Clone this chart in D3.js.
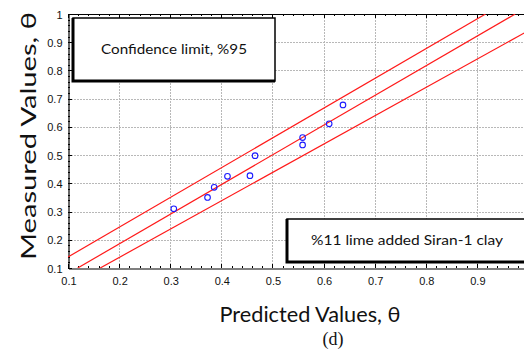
<!DOCTYPE html>
<html>
<head>
<meta charset="utf-8">
<script src="https://cdn.jsdelivr.net/npm/d3@7"></script>
<style>
  body { margin: 0; background: #fff; }
  svg { display: block; }
</style>
</head>
<body>
<div id="chart"></div>
<script>
// measured vs predicted points
const predicted = [0.307, 0.373, 0.386, 0.412, 0.456, 0.466, 0.559, 0.559, 0.611, 0.638];
const measured  = [0.310, 0.350, 0.386, 0.425, 0.427, 0.498, 0.562, 0.536, 0.611, 0.678];

// regression line and 95% confidence limits (end points)
const upperLine  = [[0.100, 0.139], [0.917, 1.000]];
const fitLine    = [[0.119, 0.100], [0.975, 1.000]];
const lowerLine  = [[0.163, 0.100], [1.000, 0.940]];

const xTicks = [0.1, 0.2, 0.3, 0.4, 0.5, 0.6, 0.7, 0.8, 0.9];
const yTicks = [0.1, 0.2, 0.3, 0.4, 0.5, 0.6, 0.7, 0.8, 0.9, 1];

const W = 524, H = 356;
const m = { left: 68, right: 528, top: 14, bottom: 268 };

const svg = d3.select('#chart').append('svg')
  .attr('width', W)
  .attr('height', H);

const x = d3.scaleLinear().domain([0.1, 1]).range([m.left, m.right]);
const y = d3.scaleLinear().domain([0.1, 1]).range([m.bottom, m.top]);

// grid
const grid = svg.append('g')
  .attr('stroke', '#b8b8b8')
  .attr('stroke-width', 1)
  .attr('stroke-dasharray', '2,1');
grid.selectAll('line.gx')
  .data(xTicks.slice(1))
  .join('line')
  .attr('class', 'gx')
  .attr('x1', d => Math.round(x(d)) + 0.5).attr('x2', d => Math.round(x(d)) + 0.5)
  .attr('y1', m.top).attr('y2', m.bottom);
grid.selectAll('line.gy')
  .data(yTicks.slice(1, -1))
  .join('line')
  .attr('class', 'gy')
  .attr('x1', m.left).attr('x2', W)
  .attr('y1', d => Math.round(y(d)) + 0.5).attr('y2', d => Math.round(y(d)) + 0.5);

// axes with inward ticks
const minorX = d3.range(0.1, 1.001, 0.02);
const minorY = d3.range(0.1, 1.001, 0.02);

const xAxis = svg.append('g')
  .attr('transform', `translate(0.5,${m.bottom + 0.5})`)
  .call(d3.axisBottom(x).tickValues(xTicks).tickSize(0).tickPadding(9).tickFormat(d3.format('.1f')));
xAxis.selectAll('text').attr('font-family', 'Liberation Sans, Arial, sans-serif').attr('font-size', 11).attr('fill', '#111');
xAxis.select('.domain').attr('stroke', '#000').attr('stroke-width', 1.2);

const yAxis = svg.append('g')
  .attr('transform', `translate(${m.left + 0.5},0.5)`)
  .call(d3.axisLeft(y).tickValues(yTicks).tickSize(0).tickPadding(6)
    .tickFormat(d => d === 1 ? '1' : d3.format('.1f')(d)));
yAxis.selectAll('text').attr('font-family', 'Liberation Sans, Arial, sans-serif').attr('font-size', 11).attr('fill', '#111');
yAxis.select('.domain').attr('stroke', '#000').attr('stroke-width', 1.2);

// top frame
svg.append('line')
  .attr('x1', m.left).attr('x2', W)
  .attr('y1', m.top + 0.5).attr('y2', m.top + 0.5)
  .attr('stroke', '#000').attr('stroke-width', 1.2);

const tickG = svg.append('g').attr('stroke', '#000').attr('stroke-width', 1);
tickG.selectAll('line.tb')
  .data(minorX)
  .join('line')
  .attr('class', 'tb')
  .attr('x1', d => Math.round(x(d)) + 0.5).attr('x2', d => Math.round(x(d)) + 0.5)
  .attr('y1', m.bottom).attr('y2', (d, i) => m.bottom - (i % 5 === 0 ? 4 : 2));
tickG.selectAll('line.tt')
  .data(minorX)
  .join('line')
  .attr('class', 'tt')
  .attr('x1', d => Math.round(x(d)) + 0.5).attr('x2', d => Math.round(x(d)) + 0.5)
  .attr('y1', m.top).attr('y2', (d, i) => m.top + (i % 5 === 0 ? 4 : 2));
tickG.selectAll('line.tl')
  .data(minorY)
  .join('line')
  .attr('class', 'tl')
  .attr('x1', m.left).attr('x2', (d, i) => m.left + (i % 5 === 0 ? 4 : 2))
  .attr('y1', d => Math.round(y(d)) + 0.5).attr('y2', d => Math.round(y(d)) + 0.5);

// lines, clipped to the plot
svg.append('clipPath').attr('id', 'plot')
  .append('rect').attr('x', m.left).attr('y', m.top).attr('width', m.right - m.left).attr('height', m.bottom - m.top);

const line = d3.line().x(d => x(d[0])).y(d => y(d[1]));
svg.append('g')
  .attr('clip-path', 'url(#plot)')
  .selectAll('path')
  .data([upperLine, fitLine, lowerLine])
  .join('path')
  .attr('d', line)
  .attr('fill', 'none')
  .attr('stroke', '#ff1a1a')
  .attr('stroke-width', 1.2);

// points
svg.append('g')
  .selectAll('circle')
  .data(predicted.map((p, i) => [p, measured[i]]))
  .join('circle')
  .attr('cx', d => x(d[0]))
  .attr('cy', d => y(d[1]))
  .attr('r', 2.8)
  .attr('fill', 'none')
  .attr('stroke', '#1a1aff')
  .attr('stroke-width', 1.1);

// legend boxes
function box(x0, y0, w, h, label, fs, tl) {
  const g = svg.append('g');
  g.append('rect')
    .attr('x', x0).attr('y', y0).attr('width', w).attr('height', h)
    .attr('fill', '#fff').attr('stroke', '#000').attr('stroke-width', 1.5);
  // heavier left and bottom edges
  g.append('path')
    .attr('d', `M${x0},${y0} V${y0 + h} H${x0 + w}`)
    .attr('fill', 'none').attr('stroke', '#000').attr('stroke-width', 3);
  g.append('text')
    .attr('x', x0 + w / 2).attr('y', y0 + h / 2)
    .attr('dy', '0.35em')
    .attr('text-anchor', 'middle')
    .attr('font-family', 'Lato, sans-serif')
    .attr('font-size', fs)
    .attr('textLength', tl)
    .attr('lengthAdjust', 'spacingAndGlyphs')
    .attr('fill', '#111')
    .text(label);
}
box(73, 18, 202, 63, 'Confidence limit, %95', 14, 146);
box(287, 219, 240, 43, '%11 lime added Siran-1 clay', 14, 192);

// axis titles
svg.append('text')
  .attr('x', 310).attr('y', 322)
  .attr('text-anchor', 'middle')
  .attr('font-family', 'Lato, sans-serif')
  .attr('font-size', 21)
  .attr('textLength', 181)
  .attr('lengthAdjust', 'spacingAndGlyphs')
  .attr('fill', '#111')
  .text('Predicted Values, θ');

svg.append('text')
  .attr('transform', 'translate(36,136) rotate(-90)')
  .attr('text-anchor', 'middle')
  .attr('font-family', 'Lato, sans-serif')
  .attr('font-size', 22)
  .attr('textLength', 248)
  .attr('lengthAdjust', 'spacingAndGlyphs')
  .attr('fill', '#111')
  .text('Measured  Values, θ');

svg.append('text')
  .attr('x', 333).attr('y', 345)
  .attr('text-anchor', 'middle')
  .attr('font-family', 'Liberation Serif, Times New Roman, serif')
  .attr('font-size', 18)
  .attr('fill', '#111')
  .text('(d)');
</script>
</body>
</html>
